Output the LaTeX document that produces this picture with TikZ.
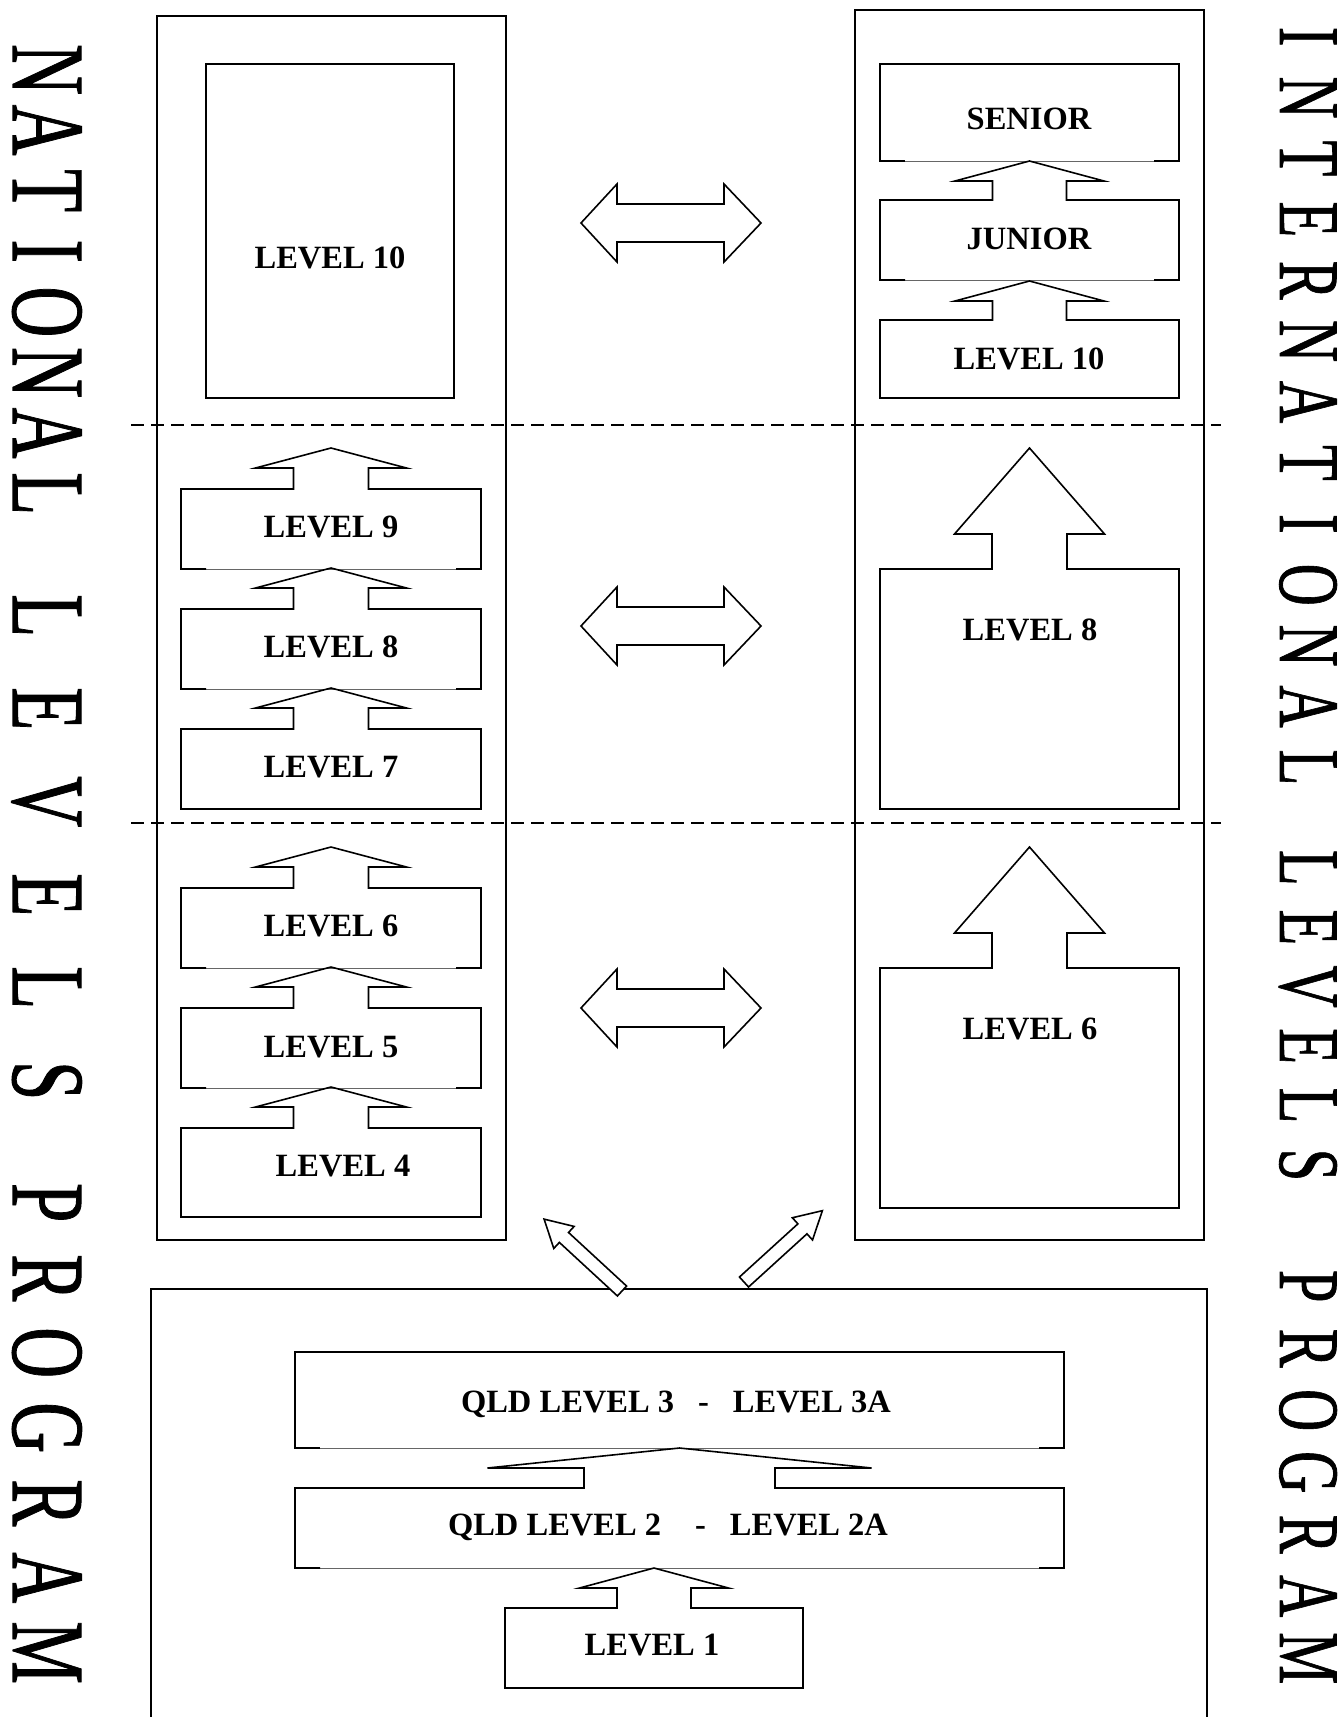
\documentclass[tikz,border=0pt]{standalone}
\usepackage{fontspec}
\setmainfont{Liberation Serif}
\newfontfamily\sidefont[FakeBold=1]{Liberation Serif}
\usepackage{graphicx}

\tikzset{
  frame/.style={line width=1.8pt},
  outline/.style={line width=1.6pt, line join=miter},
  seam/.style={line width=0.7pt, black!60},
  divider/.style={line width=1.3pt, dash pattern=on 13pt off 7pt},
  lbl/.style={font=\fontsize{32.5}{39}\selectfont\bfseries, inner sep=0pt},
  sidetext/.style={rotate=-90, anchor=base west, inner sep=0pt},
}

% one fixed-width cell per character, glyph squeezed
\newlength\charpitch
\newcommand{\spreadchar}[1]{\makebox[\charpitch][c]{\scalebox{0.68}[1]{#1}}}
\newcommand{\spread}[1]{\spreadloop#1\relax}
\def\spreadloop#1{\ifx#1\relax\else\spreadchar{#1}\expandafter\spreadloop\fi}

% box with an up arrow on top: x1, x2, top, bottom, shaft half, wing half, shaft length, head length
\newcommand{\upbox}[8]{%
  \pgfmathsetmacro\midx{(#1+#2)/2}
  \draw[seam] (#1,#4) -- (#2,#4);
  \draw[outline] (#1+25,#4) -- (#1,#4) -- (#1,#3) -- (\midx-#5,#3) -- (\midx-#5,#3-#7) -- (\midx-#6,#3-#7)
    -- (\midx,#3-#7-#8) -- (\midx+#6,#3-#7) -- (\midx+#5,#3-#7) -- (\midx+#5,#3) -- (#2,#3) -- (#2,#4) -- (#2-25,#4);
}

% left-right block arrow at height y
\newcommand{\twoway}[1]{%
  \draw[outline] (581,#1) -- (617,#1-39) -- (617,#1-19) -- (724,#1-19) -- (724,#1-39) -- (761,#1)
    -- (724,#1+39) -- (724,#1+19) -- (617,#1+19) -- (617,#1+39) -- cycle;
}

\begin{document}
\begin{tikzpicture}[x=1pt, y=-1pt]

\useasboundingbox (0,0) rectangle (1341,1717);

% side titles
\node[sidetext] (natl) at (13,39) {\sidefont\fontsize{104}{110}\selectfont\setlength\charpitch{60.6pt}\spread{NATIONAL}};
\node[sidetext] (natlev) at (13,569) {\sidefont\fontsize{104}{110}\selectfont\setlength\charpitch{93pt}\spread{LEVELS}};
\node[sidetext] (natprog) at (13,1165) {\sidefont\fontsize{104}{110}\selectfont\setlength\charpitch{75pt}\spread{PROGRAM}};
\node[sidetext] (intl) at (1280,6) {\sidefont\fontsize{86}{92}\selectfont\setlength\charpitch{60.9pt}\spread{INTERNATIONAL}};
\node[sidetext] (intlev) at (1280,838) {\sidefont\fontsize{86}{92}\selectfont\setlength\charpitch{59.4pt}\spread{LEVELS}};
\node[sidetext] (intprog) at (1280,1255) {\sidefont\fontsize{86}{92}\selectfont\setlength\charpitch{62pt}\spread{PROGRAM}};

% outer frames
\draw[frame] (157,16) rectangle (506,1240);
\draw[frame] (855,10) rectangle (1204,1240);
\draw[frame] (151,1760) -- (151,1289) -- (1207,1289) -- (1207,1760);

% dashed dividers
\draw[divider] (131,425) -- (1221,425);
\draw[divider] (131,823) -- (1221,823);

% national column
\draw[outline] (206,64) rectangle (454,398);
\node[lbl] (nat10) at (330,258) {LEVEL 10};

\upbox{181}{481}{489}{569}{37.5}{75.5}{21}{20}
\node[lbl] (nat9) at (331,527) {LEVEL 9};
\upbox{181}{481}{609}{689}{37.5}{75.5}{21}{20}
\node[lbl] (nat8) at (331,647) {LEVEL 8};
\upbox{181}{481}{729}{809}{37.5}{75.5}{21}{20}
\draw[outline] (181,809) -- (481,809);
\node[lbl] (nat7) at (331,767) {LEVEL 7};

\upbox{181}{481}{888}{968}{37.5}{75.5}{21}{20}
\node[lbl] (nat6) at (331,926) {LEVEL 6};
\upbox{181}{481}{1008}{1088}{37.5}{75.5}{21}{20}
\node[lbl] (nat5) at (331,1047) {LEVEL 5};
\upbox{181}{481}{1128}{1217}{37.5}{75.5}{21}{20}
\draw[outline] (181,1217) -- (481,1217);
\node[lbl] (nat4) at (343,1166) {LEVEL 4};

% international column
\draw[seam] (880,161) -- (1179,161);
\draw[outline] (905,161) -- (880,161) -- (880,64) -- (1179,64) -- (1179,161) -- (1154,161);
\node[lbl] (senior) at (1029,119) {SENIOR};
\upbox{880}{1179}{200}{280}{37}{74.5}{19}{20}
\node[lbl] (junior) at (1029,239) {JUNIOR};
\upbox{880}{1179}{320}{398}{37}{74.5}{19}{20}
\draw[outline] (880,398) -- (1179,398);
\node[lbl] (int10) at (1029,359) {LEVEL 10};

\upbox{880}{1179}{569}{809}{37.5}{75}{35}{86}
\draw[outline] (880,809) -- (1179,809);
\node[lbl] (int8) at (1030,630) {LEVEL 8};
\upbox{880}{1179}{968}{1208}{37.5}{75}{35}{86}
\draw[outline] (880,1208) -- (1179,1208);
\node[lbl] (int6) at (1030,1029) {LEVEL 6};

% equivalence arrows
\twoway{223}
\twoway{626}
\twoway{1008}

% state levels
\draw[seam] (295,1448) -- (1064,1448);
\draw[outline] (320,1448) -- (295,1448) -- (295,1352) -- (1064,1352) -- (1064,1448) -- (1039,1448);
\node[lbl] (qld3) at (676,1404) {QLD LEVEL 3\hspace{24pt}-\hspace{24pt}LEVEL 3A};
\upbox{295}{1064}{1488}{1568}{95.5}{192}{20}{20}
\node[lbl] (qld2) at (668,1527) {QLD LEVEL 2\hspace{34pt}-\hspace{24pt}LEVEL 2A};
\upbox{505}{803}{1608}{1688}{37}{74.5}{20}{20}
\draw[outline] (505,1688) -- (803,1688);
\node[lbl] (lvl1) at (652,1645) {LEVEL 1};

% pathways up
\begin{scope}[shift={(622,1291)}, rotate=137.3]
\draw[outline, fill=white] (0,-6.75) -- (79,-6.75) -- (79,-15) -- (106,0) -- (79,15) -- (79,6.75) -- (0,6.75) -- cycle;
\end{scope}
\begin{scope}[shift={(744,1282)}, rotate=42.3]
\draw[outline, fill=white] (0,-6.75) -- (79,-6.75) -- (79,-15) -- (106,0) -- (79,15) -- (79,6.75) -- (0,6.75) -- cycle;
\end{scope}

\end{tikzpicture}
\end{document}
